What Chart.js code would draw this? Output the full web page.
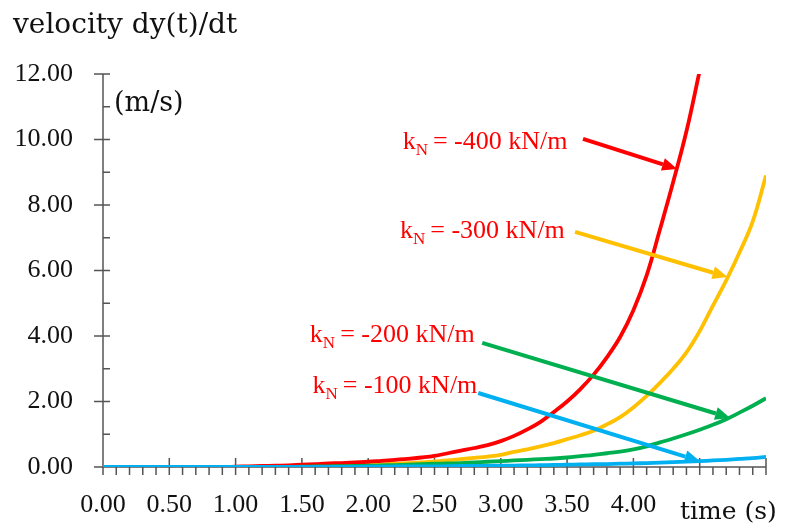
<!DOCTYPE html>
<html>
<head>
<meta charset="utf-8">
<script src="https://cdn.jsdelivr.net/npm/chart.js@4"></script>
<style>
  html, body { margin: 0; padding: 0; background: #fff; }
  #wrap { width: 785px; height: 532px; }
</style>
</head>
<body>
<div id="wrap"><canvas id="velChart"></canvas></div>
<script>
// time in seconds
const time = [0.0, 0.1, 0.2, 0.3, 0.4, 0.5, 0.6, 0.7, 0.8, 0.9,
              1.0, 1.1, 1.2, 1.3, 1.4, 1.5, 1.6, 1.7, 1.8, 1.9,
              2.0, 2.1, 2.2, 2.3, 2.4, 2.5, 2.6, 2.7, 2.8, 2.9,
              3.0, 3.1, 3.2, 3.3, 3.4, 3.5, 3.6, 3.7, 3.8, 3.9,
              4.0, 4.1, 4.2, 4.3, 4.4, 4.5, 4.6, 4.7, 4.8, 4.9, 5.0];

// velocity (m/s) for each k_N
const vel400 = [0, 0, 0, 0, 0, 0, 0, 0, 0, 0,
                0.01, 0.02, 0.03, 0.04, 0.05, 0.07, 0.09, 0.11, 0.12, 0.14,
                0.16, 0.19, 0.22, 0.25, 0.29, 0.34, 0.42, 0.50, 0.58, 0.67,
                0.79, 0.95, 1.15, 1.38, 1.68, 2.00, 2.38, 2.82, 3.35, 3.97,
                4.79, 5.85, 7.25, 8.70, 10.25, 12.10, null, null, null, null, null];
const vel300 = [0, 0, 0, 0, 0, 0, 0, 0, 0, 0,
                0, 0, 0, 0, 0, 0.02, 0.03, 0.04, 0.05, 0.06,
                0.07, 0.08, 0.10, 0.12, 0.14, 0.17, 0.20, 0.24, 0.28, 0.32,
                0.37, 0.46, 0.54, 0.63, 0.73, 0.85, 0.97, 1.11, 1.30, 1.52,
                1.82, 2.17, 2.57, 3.00, 3.50, 4.15, 4.93, 5.70, 6.55, 7.50, 8.90];
const vel200 = [0, 0, 0, 0, 0, 0, 0, 0, 0, 0,
                0, 0, 0, 0, 0, 0.01, 0.015, 0.02, 0.025, 0.03,
                0.04, 0.05, 0.06, 0.07, 0.085, 0.10, 0.11, 0.12, 0.14, 0.16,
                0.18, 0.20, 0.22, 0.24, 0.26, 0.29, 0.33, 0.37, 0.42, 0.47,
                0.54, 0.63, 0.75, 0.87, 1.00, 1.14, 1.29, 1.46, 1.66, 1.87, 2.10];
const vel100 = [0, 0, 0, 0, 0, 0, 0, 0, 0, 0,
                0, 0, 0, 0, 0, 0, 0, 0, 0, 0,
                0.01, 0.01, 0.015, 0.015, 0.02, 0.02, 0.025, 0.03, 0.03, 0.035,
                0.04, 0.045, 0.05, 0.055, 0.065, 0.07, 0.08, 0.085, 0.09, 0.10,
                0.11, 0.12, 0.135, 0.15, 0.165, 0.18, 0.20, 0.22, 0.245, 0.27, 0.31];

const kLabels = ['-400 kN/m', '-300 kN/m', '-200 kN/m', '-100 kN/m'];
const colors = ['#ff0000', '#ffc000', '#00b050', '#00b0f0'];

// callouts in data units: label left/baseline, arrow start, arrow tip
const callouts = [
  { text: kLabels[0], lx: 2.26, ly: 9.71, sx: 3.62, sy: 10.02, tx: 4.33, ty: 9.10, color: colors[0] },
  { text: kLabels[1], lx: 2.24, ly: 6.99, sx: 3.56, sy: 7.18, tx: 4.71, ty: 5.80, color: colors[1] },
  { text: kLabels[2], lx: 1.56, ly: 3.82, sx: 2.86, sy: 3.79, tx: 4.73, ty: 1.50, color: colors[2] },
  { text: kLabels[3], lx: 1.58, ly: 2.26, sx: 2.83, sy: 2.26, tx: 4.50, ty: 0.18, color: colors[3] }
];

const SERIF = '"Liberation Serif", "DejaVu Serif", serif';
const WIDE_SERIF = '"DejaVu Serif", serif';

function pts(ys) {
  return time.map((t, i) => ({ x: t, y: ys[i] }));
}

function drawArrow(ctx, x1, y1, x2, y2, color) {
  const ang = Math.atan2(y2 - y1, x2 - x1);
  const head = 15, half = 6.5;
  const bx = x2 - head * Math.cos(ang), by = y2 - head * Math.sin(ang);
  ctx.strokeStyle = color;
  ctx.fillStyle = color;
  ctx.lineWidth = 4;
  ctx.beginPath();
  ctx.moveTo(x1, y1);
  ctx.lineTo(bx, by);
  ctx.stroke();
  ctx.beginPath();
  ctx.moveTo(x2, y2);
  ctx.lineTo(bx + half * Math.sin(ang), by - half * Math.cos(ang));
  ctx.lineTo(bx - half * Math.sin(ang), by + half * Math.cos(ang));
  ctx.closePath();
  ctx.fill();
}

const decor = {
  id: 'decor',
  beforeDatasetsDraw(chart) {
    const ctx = chart.ctx, xs = chart.scales.x, ys = chart.scales.y;
    const a = chart.chartArea;
    ctx.save();
    ctx.strokeStyle = '#555';
    ctx.lineWidth = 1.5;
    ctx.beginPath();
    ctx.moveTo(a.left, a.top);
    ctx.lineTo(a.left, a.bottom);
    ctx.lineTo(a.right, a.bottom);
    // y ticks
    for (let v = 0; v <= 12; v++) {
      const py = ys.getPixelForValue(v);
      const major = v % 2 === 0;
      ctx.moveTo(major ? a.left - 9 : a.left, py);
      ctx.lineTo(a.left + 7, py);
    }
    // x ticks
    for (let i = 0; i <= 50; i++) {
      const px = xs.getPixelForValue(i / 10);
      const major = i % 5 === 0;
      ctx.moveTo(px, major ? a.bottom - 9 : a.bottom);
      ctx.lineTo(px, a.bottom + 8);
    }
    ctx.stroke();
    ctx.restore();
  },
  afterDatasetsDraw(chart) {
    const ctx = chart.ctx, xs = chart.scales.x, ys = chart.scales.y;
    ctx.save();
    callouts.forEach(c => {
      drawArrow(ctx, xs.getPixelForValue(c.sx), ys.getPixelForValue(c.sy),
                xs.getPixelForValue(c.tx), ys.getPixelForValue(c.ty), c.color);
      let x = xs.getPixelForValue(c.lx);
      const y = ys.getPixelForValue(c.ly);
      ctx.fillStyle = '#ff0000';
      ctx.textBaseline = 'alphabetic';
      ctx.textAlign = 'left';
      ctx.font = '26px ' + SERIF;
      ctx.fillText('k', x, y);
      x += ctx.measureText('k').width;
      ctx.font = '17px ' + SERIF;
      ctx.fillText('N', x, y + 6);
      x += ctx.measureText('N').width + 5;
      ctx.font = '26px ' + SERIF;
      ctx.fillText('= ' + c.text, x, y);
    });
    ctx.fillStyle = '#111';
    ctx.font = '28px ' + WIDE_SERIF;
    ctx.fillText('velocity dy(t)/dt', 13, 33);
    ctx.font = '27px ' + WIDE_SERIF;
    ctx.fillText('(m/s)', 114, 111);
    ctx.font = '25px ' + WIDE_SERIF;
    ctx.fillText('time (s)', 680, 519);
    ctx.restore();
  }
};

new Chart(document.getElementById('velChart').getContext('2d'), {
  type: 'line',
  data: {
    datasets: [
      { label: kLabels[3], data: pts(vel100), borderColor: colors[3] },
      { label: kLabels[2], data: pts(vel200), borderColor: colors[2] },
      { label: kLabels[0], data: pts(vel400), borderColor: colors[0] },
      { label: kLabels[1], data: pts(vel300), borderColor: colors[1] }
    ].map(d => Object.assign(d, {
      borderWidth: 3.8, pointRadius: 0, fill: false, tension: 0.4, spanGaps: false
    }))
  },
  options: {
    responsive: true,
    maintainAspectRatio: false,
    animation: false,
    layout: { padding: { top: 74, right: 19, left: 0, bottom: 0 } },
    plugins: { legend: { display: false }, tooltip: { enabled: false } },
    scales: {
      x: {
        type: 'linear', min: 0, max: 5,
        grid: { display: false }, border: { display: false },
        ticks: {
          stepSize: 0.5, padding: 15, color: '#111', maxRotation: 0,
          font: { family: SERIF, size: 26 },
          callback: v => v <= 4.001 ? v.toFixed(2) : ''
        },
        afterFit: s => { s.height = 65; }
      },
      y: {
        min: 0, max: 12,
        grid: { display: false }, border: { display: false },
        ticks: {
          stepSize: 2, padding: 22, color: '#111',
          font: { family: SERIF, size: 26 },
          callback: v => v.toFixed(2)
        },
        afterFit: s => { s.width = 103; }
      }
    }
  },
  plugins: [decor]
});
</script>
</body>
</html>
